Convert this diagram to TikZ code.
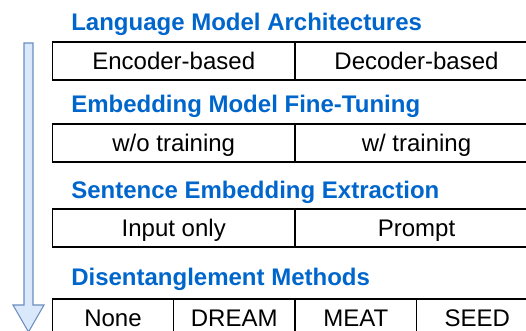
\documentclass[tikz,border=0pt]{standalone}
\usepackage{fontspec}
\setmainfont{Liberation Sans}
\definecolor{headblue}{RGB}{0,102,204}
\definecolor{arrowfill}{HTML}{DAE8FC}
\definecolor{arrowline}{HTML}{6C8EBF}
\tikzset{
  heading/.style={anchor=base west, inner sep=0pt, text=headblue,
    font=\fontsize{18pt}{21pt}\selectfont\bfseries},
  cell/.style={draw=black, line width=1pt, inner sep=0pt,
    minimum height=28.5pt, text height=12.9pt, text depth=0pt,
    font=\fontsize{18pt}{21pt}\selectfont},
  halfcell/.style={cell, minimum width=182.06pt},
  quartercell/.style={cell, minimum width=91.1pt},
  flowarrow/.style={draw=arrowline, fill=arrowfill, line width=0.8pt, line join=miter}
}
\begin{document}
\begin{tikzpicture}[x=0.75pt, y=-0.75pt]
  \useasboundingbox (0,0) rectangle (526,331);
  \begin{scope}
    \clip (0,0) rectangle (526,331);

    % downward progression arrow
    \draw[flowarrow] (24,43) -- (33,43) -- (33,305) -- (44,305) -- (28.5,332)
      -- (13,305) -- (24,305) -- cycle;

    % stage 1
    \node[heading] (h1) at (71,31) {Language Model Architectures};
    \node[halfcell] (enc) at (173.75,61) {Encoder-based};
    \node[halfcell] (dec) at (416.5,61) {Decoder-based};

    % stage 2
    \node[heading] (h2) at (71,112.5) {Embedding Model Fine-Tuning};
    \node[halfcell] (wo) at (173.75,143) {w/o training};
    \node[halfcell] (wt) at (416.5,143) {w/ training};

    % stage 3
    \node[heading] (h3) at (71,198.5) {Sentence Embedding Extraction};
    \node[halfcell] (inp) at (173.75,228) {Input only};
    \node[halfcell] (prm) at (416.5,228) {Prompt};

    % stage 4
    \node[heading] (h4) at (71,286) {Disentanglement Methods};
    \node[quartercell] (none) at (113,318) {None};
    \node[quartercell] (dream) at (234.25,318) {DREAM};
    \node[quartercell] (meat) at (355.75,318) {MEAT};
    \node[quartercell] (seed) at (477.25,318) {SEED};
  \end{scope}
\end{tikzpicture}
\end{document}
